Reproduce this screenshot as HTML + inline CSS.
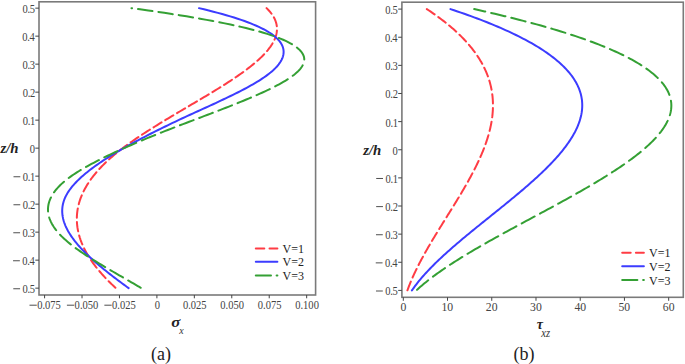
<!DOCTYPE html>
<html><head><meta charset="utf-8"><style>
html,body{margin:0;padding:0;background:#fff;}
svg{display:block;}
text{font-family:"Liberation Serif",serif;font-size:11px;fill:#444;}
.lg{font-size:12px;fill:#222;}
.t{font-style:italic;font-weight:bold;font-size:14.8px;fill:#222;}
.cap{font-size:18px;fill:#222;}
</style></head><body>
<svg width="685" height="364" viewBox="0 0 685 364">
<rect width="685" height="364" fill="#fff"/>
<g fill="none" stroke-width="2.0" stroke-linecap="round" stroke-linejoin="round">
<path d="M115.88 288.15 L114.61 286.98 L113.36 285.81 L112.13 284.64 L110.92 283.46 L109.72 282.29 L108.55 281.12 L107.40 279.95 L106.26 278.78 L105.15 277.61 L104.06 276.43 L102.99 275.26 L101.94 274.09 L100.91 272.92 L99.90 271.75 L98.91 270.58 L97.94 269.41 L96.99 268.23 L96.06 267.06 L95.16 265.89 L94.27 264.72 L93.41 263.55 L92.56 262.38 L91.74 261.20 L90.94 260.03 L90.16 258.86 L89.40 257.69 L88.66 256.52 L87.95 255.35 L87.26 254.18 L86.58 253.00 L85.93 251.83 L85.31 250.66 L84.70 249.49 L84.11 248.32 L83.55 247.15 L83.01 245.97 L82.49 244.80 L82.00 243.63 L81.52 242.46 L81.07 241.29 L80.64 240.12 L80.24 238.94 L79.85 237.77 L79.49 236.60 L79.15 235.43 L78.84 234.26 L78.54 233.09 L78.27 231.92 L78.03 230.74 L77.80 229.57 L77.60 228.40 L77.42 227.23 L77.27 226.06 L77.14 224.89 L77.03 223.71 L76.95 222.54 L76.89 221.37 L76.85 220.20 L76.84 219.03 L76.85 217.86 L76.88 216.69 L76.94 215.51 L77.02 214.34 L77.13 213.17 L77.26 212.00 L77.41 210.83 L77.59 209.66 L77.79 208.48 L78.02 207.31 L78.27 206.14 L78.55 204.97 L78.85 203.80 L79.17 202.63 L79.52 201.46 L79.90 200.28 L80.30 199.11 L80.72 197.94 L81.17 196.77 L81.65 195.60 L82.15 194.43 L82.67 193.25 L83.22 192.08 L83.80 190.91 L84.40 189.74 L85.03 188.57 L85.68 187.40 L86.36 186.23 L87.06 185.05 L87.79 183.88 L88.54 182.71 L89.32 181.54 L90.13 180.37 L90.96 179.20 L91.82 178.02 L92.71 176.85 L93.62 175.68 L94.56 174.51 L95.52 173.34 L96.51 172.17 L97.53 171.00 L98.57 169.82 L99.64 168.65 L100.74 167.48 L101.87 166.31 L103.02 165.14 L104.19 163.97 L105.40 162.79 L106.63 161.62 L107.89 160.45 L109.18 159.28 L110.49 158.11 L111.83 156.94 L113.20 155.77 L114.60 154.59 L116.02 153.42 L117.47 152.25 L118.95 151.08 L120.45 149.91 L121.98 148.74 L123.53 147.56 L125.11 146.39 L126.70 145.22 L128.33 144.05 L129.97 142.88 L131.64 141.71 L133.32 140.53 L135.03 139.36 L136.75 138.19 L138.49 137.02 L140.25 135.85 L142.03 134.68 L143.82 133.51 L145.63 132.33 L147.46 131.16 L149.30 129.99 L151.15 128.82 L153.02 127.65 L154.90 126.48 L156.79 125.30 L158.69 124.13 L160.60 122.96 L162.52 121.79 L164.45 120.62 L166.39 119.45 L168.34 118.28 L170.29 117.10 L172.25 115.93 L174.22 114.76 L176.19 113.59 L178.17 112.42 L180.15 111.25 L182.13 110.07 L184.12 108.90 L186.10 107.73 L188.09 106.56 L190.08 105.39 L192.07 104.22 L194.06 103.05 L196.04 101.87 L198.02 100.70 L200.00 99.53 L201.98 98.36 L203.95 97.19 L205.91 96.02 L207.87 94.84 L209.82 93.67 L211.76 92.50 L213.69 91.33 L215.61 90.16 L217.52 88.99 L219.41 87.82 L221.29 86.64 L223.16 85.47 L225.01 84.30 L226.84 83.13 L228.66 81.96 L230.46 80.79 L232.24 79.61 L233.99 78.44 L235.73 77.27 L237.44 76.10 L239.14 74.93 L240.80 73.76 L242.45 72.59 L244.06 71.41 L245.65 70.24 L247.21 69.07 L248.75 67.90 L250.25 66.73 L251.72 65.56 L253.16 64.38 L254.57 63.21 L255.94 62.04 L257.28 60.87 L258.59 59.70 L259.86 58.53 L261.09 57.36 L262.28 56.18 L263.43 55.01 L264.54 53.84 L265.62 52.67 L266.65 51.50 L267.63 50.33 L268.57 49.15 L269.47 47.98 L270.32 46.81 L271.13 45.64 L271.89 44.47 L272.60 43.30 L273.26 42.12 L273.86 40.95 L274.42 39.78 L274.93 38.61 L275.38 37.44 L275.77 36.27 L276.12 35.10 L276.40 33.92 L276.63 32.75 L276.80 31.58 L276.91 30.41 L276.96 29.24 L276.95 28.07 L276.88 26.89 L276.75 25.72 L276.55 24.55 L276.28 23.38 L275.96 22.21 L275.56 21.04 L275.10 19.87 L274.57 18.69 L273.97 17.52 L273.29 16.35 L272.55 15.18 L271.74 14.01 L270.85 12.84 L269.89 11.66 L268.85 10.49 L267.74 9.32 L266.55 8.15" stroke="#ff3c44" stroke-dasharray="9.4 4.32" stroke-dashoffset="-0.65"/>
<path d="M128.63 288.15 L127.03 286.98 L125.43 285.81 L123.84 284.64 L122.26 283.46 L120.68 282.29 L119.12 281.12 L117.56 279.95 L116.01 278.78 L114.47 277.61 L112.95 276.43 L111.43 275.26 L109.93 274.09 L108.44 272.92 L106.96 271.75 L105.50 270.58 L104.05 269.41 L102.61 268.23 L101.20 267.06 L99.79 265.89 L98.41 264.72 L97.04 263.55 L95.68 262.38 L94.35 261.20 L93.04 260.03 L91.74 258.86 L90.46 257.69 L89.21 256.52 L87.97 255.35 L86.76 254.18 L85.57 253.00 L84.40 251.83 L83.26 250.66 L82.14 249.49 L81.04 248.32 L79.97 247.15 L78.92 245.97 L77.90 244.80 L76.91 243.63 L75.94 242.46 L75.00 241.29 L74.09 240.12 L73.21 238.94 L72.36 237.77 L71.54 236.60 L70.75 235.43 L69.99 234.26 L69.26 233.09 L68.57 231.92 L67.90 230.74 L67.27 229.57 L66.68 228.40 L66.12 227.23 L65.59 226.06 L65.10 224.89 L64.65 223.71 L64.23 222.54 L63.85 221.37 L63.51 220.20 L63.20 219.03 L62.94 217.86 L62.72 216.69 L62.53 215.51 L62.39 214.34 L62.29 213.17 L62.22 212.00 L62.21 210.83 L62.23 209.66 L62.30 208.48 L62.41 207.31 L62.57 206.14 L62.77 204.97 L63.02 203.80 L63.32 202.63 L63.66 201.46 L64.05 200.28 L64.48 199.11 L64.97 197.94 L65.51 196.77 L66.09 195.60 L66.72 194.43 L67.41 193.25 L68.13 192.08 L68.91 190.91 L69.73 189.74 L70.60 188.57 L71.51 187.40 L72.47 186.23 L73.47 185.05 L74.51 183.88 L75.60 182.71 L76.73 181.54 L77.90 180.37 L79.11 179.20 L80.36 178.02 L81.65 176.85 L82.97 175.68 L84.34 174.51 L85.74 173.34 L87.18 172.17 L88.65 171.00 L90.16 169.82 L91.71 168.65 L93.29 167.48 L94.90 166.31 L96.55 165.14 L98.22 163.97 L99.93 162.79 L101.67 161.62 L103.44 160.45 L105.24 159.28 L107.07 158.11 L108.93 156.94 L110.81 155.77 L112.73 154.59 L114.67 153.42 L116.63 152.25 L118.62 151.08 L120.63 149.91 L122.67 148.74 L124.73 147.56 L126.81 146.39 L128.92 145.22 L131.05 144.05 L133.19 142.88 L135.36 141.71 L137.55 140.53 L139.76 139.36 L141.99 138.19 L144.23 137.02 L146.50 135.85 L148.78 134.68 L151.08 133.51 L153.40 132.33 L155.74 131.16 L158.09 129.99 L160.46 128.82 L162.85 127.65 L165.25 126.48 L167.67 125.30 L170.10 124.13 L172.55 122.96 L175.01 121.79 L177.49 120.62 L179.98 119.45 L182.48 118.28 L185.00 117.10 L187.53 115.93 L190.07 114.76 L192.62 113.59 L195.18 112.42 L197.75 111.25 L200.31 110.07 L202.88 108.90 L205.45 107.73 L208.01 106.56 L210.57 105.39 L213.12 104.22 L215.66 103.05 L218.18 101.87 L220.69 100.70 L223.18 99.53 L225.66 98.36 L228.11 97.19 L230.53 96.02 L232.93 94.84 L235.31 93.67 L237.65 92.50 L239.95 91.33 L242.23 90.16 L244.46 88.99 L246.65 87.82 L248.80 86.64 L250.91 85.47 L252.97 84.30 L254.98 83.13 L256.94 81.96 L258.84 80.79 L260.69 79.61 L262.48 78.44 L264.21 77.27 L265.88 76.10 L267.48 74.93 L269.01 73.76 L270.48 72.59 L271.87 71.41 L273.19 70.24 L274.44 69.07 L275.61 67.90 L276.71 66.73 L277.73 65.56 L278.67 64.38 L279.54 63.21 L280.32 62.04 L281.02 60.87 L281.65 59.70 L282.18 58.53 L282.64 57.36 L283.01 56.18 L283.29 55.01 L283.48 53.84 L283.59 52.67 L283.61 51.50 L283.53 50.33 L283.36 49.15 L283.09 47.98 L282.73 46.81 L282.26 45.64 L281.68 44.47 L281.00 43.30 L280.22 42.12 L279.31 40.95 L278.30 39.78 L277.17 38.61 L275.92 37.44 L274.54 36.27 L273.05 35.10 L271.42 33.92 L269.67 32.75 L267.78 31.58 L265.76 30.41 L263.61 29.24 L261.31 28.07 L258.88 26.89 L256.30 25.72 L253.57 24.55 L250.70 23.38 L247.67 22.21 L244.50 21.04 L241.17 19.87 L237.69 18.69 L234.04 17.52 L230.24 16.35 L226.27 15.18 L222.15 14.01 L217.85 12.84 L213.39 11.66 L208.76 10.49 L203.95 9.32 L198.97 8.15" stroke="#3c3cff"/>
<path d="M141.33 288.15 L139.36 286.98 L137.38 285.81 L135.39 284.64 L133.39 283.46 L131.38 282.29 L129.36 281.12 L127.34 279.95 L125.31 278.78 L123.29 277.61 L121.26 276.43 L119.23 275.26 L117.20 274.09 L115.17 272.92 L113.15 271.75 L111.14 270.58 L109.13 269.41 L107.14 268.23 L105.15 267.06 L103.17 265.89 L101.21 264.72 L99.27 263.55 L97.33 262.38 L95.42 261.20 L93.53 260.03 L91.65 258.86 L89.80 257.69 L87.98 256.52 L86.17 255.35 L84.40 254.18 L82.65 253.00 L80.93 251.83 L79.24 250.66 L77.59 249.49 L75.97 248.32 L74.38 247.15 L72.83 245.97 L71.32 244.80 L69.84 243.63 L68.41 242.46 L67.02 241.29 L65.68 240.12 L64.38 238.94 L63.13 237.77 L61.92 236.60 L60.76 235.43 L59.65 234.26 L58.59 233.09 L57.58 231.92 L56.62 230.74 L55.70 229.57 L54.84 228.40 L54.03 227.23 L53.26 226.06 L52.55 224.89 L51.88 223.71 L51.27 222.54 L50.71 221.37 L50.20 220.20 L49.75 219.03 L49.34 217.86 L48.99 216.69 L48.69 215.51 L48.44 214.34 L48.25 213.17 L48.11 212.00 L48.02 210.83 L47.99 209.66 L48.01 208.48 L48.09 207.31 L48.22 206.14 L48.41 204.97 L48.65 203.80 L48.95 202.63 L49.31 201.46 L49.72 200.28 L50.19 199.11 L50.72 197.94 L51.30 196.77 L51.94 195.60 L52.64 194.43 L53.40 193.25 L54.21 192.08 L55.09 190.91 L56.02 189.74 L57.01 188.57 L58.07 187.40 L59.18 186.23 L60.35 185.05 L61.58 183.88 L62.88 182.71 L64.23 181.54 L65.65 180.37 L67.13 179.20 L68.67 178.02 L70.27 176.85 L71.93 175.68 L73.65 174.51 L75.43 173.34 L77.26 172.17 L79.14 171.00 L81.08 169.82 L83.06 168.65 L85.09 167.48 L87.17 166.31 L89.30 165.14 L91.46 163.97 L93.67 162.79 L95.91 161.62 L98.19 160.45 L100.51 159.28 L102.86 158.11 L105.24 156.94 L107.66 155.77 L110.10 154.59 L112.57 153.42 L115.07 152.25 L117.60 151.08 L120.16 149.91 L122.75 148.74 L125.36 147.56 L128.01 146.39 L130.68 145.22 L133.38 144.05 L136.10 142.88 L138.85 141.71 L141.63 140.53 L144.43 139.36 L147.26 138.19 L150.12 137.02 L153.00 135.85 L155.90 134.68 L158.83 133.51 L161.78 132.33 L164.76 131.16 L167.76 129.99 L170.78 128.82 L173.82 127.65 L176.87 126.48 L179.94 125.30 L183.02 124.13 L186.10 122.96 L189.19 121.79 L192.28 120.62 L195.37 119.45 L198.45 118.28 L201.54 117.10 L204.62 115.93 L207.69 114.76 L210.75 113.59 L213.81 112.42 L216.85 111.25 L219.88 110.07 L222.90 108.90 L225.90 107.73 L228.88 106.56 L231.84 105.39 L234.78 104.22 L237.70 103.05 L240.59 101.87 L243.46 100.70 L246.29 99.53 L249.10 98.36 L251.87 97.19 L254.60 96.02 L257.28 94.84 L259.93 93.67 L262.53 92.50 L265.07 91.33 L267.57 90.16 L270.01 88.99 L272.39 87.82 L274.71 86.64 L276.96 85.47 L279.15 84.30 L281.26 83.13 L283.31 81.96 L285.27 80.79 L287.16 79.61 L288.96 78.44 L290.68 77.27 L292.31 76.10 L293.85 74.93 L295.30 73.76 L296.65 72.59 L297.90 71.41 L299.05 70.24 L300.09 69.07 L301.02 67.90 L301.84 66.73 L302.55 65.56 L303.14 64.38 L303.61 63.21 L303.96 62.04 L304.18 60.87 L304.27 59.70 L304.23 58.53 L304.05 57.36 L303.74 56.18 L303.28 55.01 L302.69 53.84 L301.94 52.67 L301.05 51.50 L300.00 50.33 L298.80 49.15 L297.44 47.98 L295.92 46.81 L294.23 45.64 L292.37 44.47 L290.34 43.30 L288.12 42.12 L285.73 40.95 L283.14 39.78 L280.36 38.61 L277.38 37.44 L274.20 36.27 L270.81 35.10 L267.21 33.92 L263.40 32.75 L259.36 31.58 L255.10 30.41 L250.62 29.24 L245.91 28.07 L240.99 26.89 L235.83 25.72 L230.46 24.55 L224.86 23.38 L219.03 22.21 L212.97 21.04 L206.69 19.87 L200.18 18.69 L193.45 17.52 L186.49 16.35 L179.30 15.18 L171.88 14.01 L164.25 12.84 L156.38 11.66 L148.29 10.49 L139.98 9.32 L131.44 8.15" stroke="#34a034" stroke-dasharray="14.57 6.0" stroke-dashoffset="-0.7"/>
<path d="M407.40 290.40 L407.83 289.22 L408.26 288.05 L408.71 286.87 L409.16 285.69 L409.63 284.52 L410.10 283.34 L410.58 282.16 L411.08 280.98 L411.58 279.81 L412.08 278.63 L412.60 277.45 L413.13 276.28 L413.66 275.10 L414.20 273.92 L414.75 272.75 L415.31 271.57 L415.87 270.39 L416.45 269.21 L417.02 268.04 L417.61 266.86 L418.20 265.68 L418.80 264.51 L419.41 263.33 L420.02 262.15 L420.64 260.98 L421.26 259.80 L421.89 258.62 L422.53 257.44 L423.17 256.27 L423.82 255.09 L424.47 253.91 L425.13 252.74 L425.79 251.56 L426.45 250.38 L427.13 249.21 L427.80 248.03 L428.48 246.85 L429.16 245.67 L429.85 244.50 L430.54 243.32 L431.24 242.14 L431.94 240.97 L432.64 239.79 L433.34 238.61 L434.05 237.44 L434.76 236.26 L435.48 235.08 L436.19 233.90 L436.91 232.73 L437.63 231.55 L438.35 230.37 L439.07 229.20 L439.80 228.02 L440.53 226.84 L441.26 225.67 L441.98 224.49 L442.72 223.31 L443.45 222.13 L444.18 220.96 L444.91 219.78 L445.64 218.60 L446.38 217.43 L447.11 216.25 L447.84 215.07 L448.57 213.90 L449.31 212.72 L450.04 211.54 L450.77 210.36 L451.50 209.19 L452.23 208.01 L452.95 206.83 L453.68 205.66 L454.40 204.48 L455.13 203.30 L455.85 202.13 L456.56 200.95 L457.28 199.77 L457.99 198.59 L458.71 197.42 L459.41 196.24 L460.12 195.06 L460.82 193.89 L461.52 192.71 L462.22 191.53 L462.91 190.36 L463.60 189.18 L464.28 188.00 L464.96 186.83 L465.64 185.65 L466.31 184.47 L466.98 183.29 L467.64 182.12 L468.30 180.94 L468.95 179.76 L469.60 178.59 L470.24 177.41 L470.88 176.23 L471.51 175.06 L472.14 173.88 L472.76 172.70 L473.37 171.52 L473.98 170.35 L474.58 169.17 L475.18 167.99 L475.76 166.82 L476.34 165.64 L476.92 164.46 L477.48 163.29 L478.04 162.11 L478.59 160.93 L479.14 159.75 L479.67 158.58 L480.20 157.40 L480.72 156.22 L481.23 155.05 L481.73 153.87 L482.23 152.69 L482.71 151.52 L483.19 150.34 L483.65 149.16 L484.11 147.98 L484.56 146.81 L484.99 145.63 L485.42 144.45 L485.84 143.28 L486.25 142.10 L486.65 140.92 L487.03 139.75 L487.41 138.57 L487.77 137.39 L488.13 136.21 L488.47 135.04 L488.80 133.86 L489.12 132.68 L489.43 131.51 L489.73 130.33 L490.02 129.15 L490.29 127.98 L490.55 126.80 L490.80 125.62 L491.03 124.44 L491.26 123.27 L491.47 122.09 L491.66 120.91 L491.85 119.74 L492.02 118.56 L492.17 117.38 L492.32 116.21 L492.44 115.03 L492.56 113.85 L492.66 112.67 L492.75 111.50 L492.82 110.32 L492.88 109.14 L492.92 107.97 L492.94 106.79 L492.96 105.61 L492.95 104.44 L492.93 103.26 L492.90 102.08 L492.85 100.91 L492.78 99.73 L492.70 98.55 L492.60 97.37 L492.49 96.20 L492.35 95.02 L492.20 93.84 L492.04 92.67 L491.86 91.49 L491.66 90.31 L491.44 89.14 L491.20 87.96 L490.95 86.78 L490.68 85.60 L490.39 84.43 L490.08 83.25 L489.75 82.07 L489.41 80.90 L489.05 79.72 L488.66 78.54 L488.26 77.37 L487.84 76.19 L487.40 75.01 L486.94 73.83 L486.46 72.66 L485.96 71.48 L485.45 70.30 L484.91 69.13 L484.35 67.95 L483.77 66.77 L483.16 65.60 L482.54 64.42 L481.90 63.24 L481.24 62.06 L480.55 60.89 L479.84 59.71 L479.11 58.53 L478.36 57.36 L477.59 56.18 L476.80 55.00 L475.98 53.83 L475.14 52.65 L474.28 51.47 L473.39 50.29 L472.49 49.12 L471.55 47.94 L470.60 46.76 L469.62 45.59 L468.62 44.41 L467.60 43.23 L466.55 42.06 L465.47 40.88 L464.38 39.70 L463.26 38.52 L462.11 37.35 L460.94 36.17 L459.74 34.99 L458.52 33.82 L457.27 32.64 L456.00 31.46 L454.71 30.29 L453.38 29.11 L452.03 27.93 L450.66 26.75 L449.26 25.58 L447.83 24.40 L446.38 23.22 L444.89 22.05 L443.39 20.87 L441.85 19.69 L440.29 18.52 L438.70 17.34 L437.09 16.16 L435.44 14.98 L433.77 13.81 L432.07 12.63 L430.34 11.45 L428.58 10.28 L426.80 9.10" stroke="#ff3c44" stroke-dasharray="9.4 4.44" stroke-dashoffset="-0.07"/>
<path d="M411.93 290.40 L412.74 289.22 L413.57 288.05 L414.43 286.87 L415.30 285.69 L416.20 284.52 L417.11 283.34 L418.04 282.16 L418.99 280.98 L419.96 279.81 L420.95 278.63 L421.96 277.45 L422.98 276.28 L424.02 275.10 L425.08 273.92 L426.15 272.75 L427.24 271.57 L428.35 270.39 L429.47 269.21 L430.61 268.04 L431.76 266.86 L432.92 265.68 L434.10 264.51 L435.29 263.33 L436.50 262.15 L437.72 260.98 L438.95 259.80 L440.20 258.62 L441.45 257.44 L442.72 256.27 L444.00 255.09 L445.29 253.91 L446.59 252.74 L447.91 251.56 L449.23 250.38 L450.56 249.21 L451.90 248.03 L453.25 246.85 L454.61 245.67 L455.98 244.50 L457.35 243.32 L458.73 242.14 L460.12 240.97 L461.52 239.79 L462.92 238.61 L464.33 237.44 L465.75 236.26 L467.17 235.08 L468.60 233.90 L470.03 232.73 L471.46 231.55 L472.90 230.37 L474.35 229.20 L475.80 228.02 L477.25 226.84 L478.70 225.67 L480.16 224.49 L481.62 223.31 L483.08 222.13 L484.54 220.96 L486.00 219.78 L487.47 218.60 L488.93 217.43 L490.40 216.25 L491.87 215.07 L493.33 213.90 L494.80 212.72 L496.26 211.54 L497.72 210.36 L499.18 209.19 L500.64 208.01 L502.09 206.83 L503.55 205.66 L505.00 204.48 L506.44 203.30 L507.89 202.13 L509.33 200.95 L510.76 199.77 L512.19 198.59 L513.62 197.42 L515.04 196.24 L516.45 195.06 L517.86 193.89 L519.26 192.71 L520.65 191.53 L522.04 190.36 L523.42 189.18 L524.79 188.00 L526.16 186.83 L527.51 185.65 L528.86 184.47 L530.20 183.29 L531.53 182.12 L532.85 180.94 L534.16 179.76 L535.46 178.59 L536.74 177.41 L538.02 176.23 L539.29 175.06 L540.54 173.88 L541.79 172.70 L543.02 171.52 L544.23 170.35 L545.44 169.17 L546.63 167.99 L547.81 166.82 L548.97 165.64 L550.12 164.46 L551.26 163.29 L552.38 162.11 L553.48 160.93 L554.57 159.75 L555.64 158.58 L556.70 157.40 L557.74 156.22 L558.77 155.05 L559.77 153.87 L560.76 152.69 L561.73 151.52 L562.69 150.34 L563.62 149.16 L564.54 147.98 L565.43 146.81 L566.31 145.63 L567.17 144.45 L568.00 143.28 L568.82 142.10 L569.62 140.92 L570.39 139.75 L571.15 138.57 L571.88 137.39 L572.59 136.21 L573.27 135.04 L573.94 133.86 L574.58 132.68 L575.20 131.51 L575.79 130.33 L576.36 129.15 L576.91 127.98 L577.43 126.80 L577.93 125.62 L578.40 124.44 L578.84 123.27 L579.26 122.09 L579.66 120.91 L580.02 119.74 L580.36 118.56 L580.68 117.38 L580.96 116.21 L581.22 115.03 L581.45 113.85 L581.65 112.67 L581.82 111.50 L581.97 110.32 L582.08 109.14 L582.16 107.97 L582.22 106.79 L582.24 105.61 L582.23 104.44 L582.19 103.26 L582.12 102.08 L582.02 100.91 L581.89 99.73 L581.72 98.55 L581.52 97.37 L581.29 96.20 L581.02 95.02 L580.73 93.84 L580.39 92.67 L580.03 91.49 L579.62 90.31 L579.19 89.14 L578.72 87.96 L578.21 86.78 L577.67 85.60 L577.09 84.43 L576.47 83.25 L575.82 82.07 L575.13 80.90 L574.40 79.72 L573.64 78.54 L572.84 77.37 L572.00 76.19 L571.12 75.01 L570.20 73.83 L569.24 72.66 L568.24 71.48 L567.20 70.30 L566.13 69.13 L565.01 67.95 L563.85 66.77 L562.65 65.60 L561.41 64.42 L560.12 63.24 L558.80 62.06 L557.43 60.89 L556.02 59.71 L554.56 58.53 L553.07 57.36 L551.52 56.18 L549.94 55.00 L548.31 53.83 L546.64 52.65 L544.92 51.47 L543.15 50.29 L541.34 49.12 L539.49 47.94 L537.58 46.76 L535.64 45.59 L533.64 44.41 L531.60 43.23 L529.51 42.06 L527.37 40.88 L525.18 39.70 L522.95 38.52 L520.67 37.35 L518.33 36.17 L515.95 34.99 L513.52 33.82 L511.04 32.64 L508.51 31.46 L505.93 30.29 L503.29 29.11 L500.61 27.93 L497.88 26.75 L495.09 25.58 L492.25 24.40 L489.36 23.22 L486.41 22.05 L483.42 20.87 L480.36 19.69 L477.26 18.52 L474.10 17.34 L470.89 16.16 L467.62 14.98 L464.30 13.81 L460.92 12.63 L457.49 11.45 L454.00 10.28 L450.46 9.10" stroke="#3c3cff"/>
<path d="M416.42 290.40 L417.69 289.22 L418.99 288.05 L420.31 286.87 L421.67 285.69 L423.05 284.52 L424.46 283.34 L425.90 282.16 L427.36 280.98 L428.86 279.81 L430.37 278.63 L431.92 277.45 L433.49 276.28 L435.08 275.10 L436.69 273.92 L438.33 272.75 L440.00 271.57 L441.68 270.39 L443.39 269.21 L445.12 268.04 L446.87 266.86 L448.64 265.68 L450.43 264.51 L452.24 263.33 L454.07 262.15 L455.91 260.98 L457.78 259.80 L459.66 258.62 L461.56 257.44 L463.48 256.27 L465.41 255.09 L467.36 253.91 L469.32 252.74 L471.30 251.56 L473.29 250.38 L475.30 249.21 L477.32 248.03 L479.35 246.85 L481.39 245.67 L483.45 244.50 L485.52 243.32 L487.59 242.14 L489.68 240.97 L491.78 239.79 L493.89 238.61 L496.00 237.44 L498.12 236.26 L500.25 235.08 L502.39 233.90 L504.54 232.73 L506.69 231.55 L508.85 230.37 L511.01 229.20 L513.18 228.02 L515.35 226.84 L517.52 225.67 L519.70 224.49 L521.89 223.31 L524.07 222.13 L526.26 220.96 L528.44 219.78 L530.63 218.60 L532.82 217.43 L535.01 216.25 L537.20 215.07 L539.39 213.90 L541.57 212.72 L543.75 211.54 L545.94 210.36 L548.11 209.19 L550.29 208.01 L552.46 206.83 L554.63 205.66 L556.79 204.48 L558.94 203.30 L561.09 202.13 L563.24 200.95 L565.38 199.77 L567.51 198.59 L569.63 197.42 L571.74 196.24 L573.85 195.06 L575.94 193.89 L578.03 192.71 L580.10 191.53 L582.17 190.36 L584.22 189.18 L586.26 188.00 L588.29 186.83 L590.31 185.65 L592.31 184.47 L594.30 183.29 L596.28 182.12 L598.24 180.94 L600.19 179.76 L602.12 178.59 L604.03 177.41 L605.93 176.23 L607.81 175.06 L609.67 173.88 L611.52 172.70 L613.35 171.52 L615.15 170.35 L616.94 169.17 L618.71 167.99 L620.46 166.82 L622.19 165.64 L623.89 164.46 L625.58 163.29 L627.24 162.11 L628.88 160.93 L630.49 159.75 L632.09 158.58 L633.65 157.40 L635.20 156.22 L636.72 155.05 L638.21 153.87 L639.67 152.69 L641.11 151.52 L642.53 150.34 L643.91 149.16 L645.27 147.98 L646.59 146.81 L647.89 145.63 L649.16 144.45 L650.40 143.28 L651.61 142.10 L652.79 140.92 L653.93 139.75 L655.05 138.57 L656.13 137.39 L657.18 136.21 L658.20 135.04 L659.18 133.86 L660.12 132.68 L661.04 131.51 L661.91 130.33 L662.76 129.15 L663.56 127.98 L664.33 126.80 L665.06 125.62 L665.76 124.44 L666.41 123.27 L667.03 122.09 L667.61 120.91 L668.14 119.74 L668.64 118.56 L669.10 117.38 L669.52 116.21 L669.89 115.03 L670.22 113.85 L670.52 112.67 L670.76 111.50 L670.97 110.32 L671.13 109.14 L671.24 107.97 L671.31 106.79 L671.34 105.61 L671.32 104.44 L671.25 103.26 L671.14 102.08 L670.98 100.91 L670.77 99.73 L670.52 98.55 L670.21 97.37 L669.86 96.20 L669.46 95.02 L669.00 93.84 L668.50 92.67 L667.95 91.49 L667.34 90.31 L666.68 89.14 L665.97 87.96 L665.21 86.78 L664.39 85.60 L663.52 84.43 L662.59 83.25 L661.61 82.07 L660.58 80.90 L659.49 79.72 L658.34 78.54 L657.14 77.37 L655.87 76.19 L654.56 75.01 L653.18 73.83 L651.74 72.66 L650.25 71.48 L648.69 70.30 L647.08 69.13 L645.41 67.95 L643.67 66.77 L641.87 65.60 L640.01 64.42 L638.09 63.24 L636.11 62.06 L634.06 60.89 L631.95 59.71 L629.77 58.53 L627.53 57.36 L625.23 56.18 L622.86 55.00 L620.42 53.83 L617.92 52.65 L615.35 51.47 L612.71 50.29 L610.00 49.12 L607.23 47.94 L604.38 46.76 L601.47 45.59 L598.49 44.41 L595.43 43.23 L592.31 42.06 L589.11 40.88 L585.85 39.70 L582.51 38.52 L579.09 37.35 L575.61 36.17 L572.05 34.99 L568.42 33.82 L564.71 32.64 L560.93 31.46 L557.07 30.29 L553.13 29.11 L549.12 27.93 L545.03 26.75 L540.87 25.58 L536.63 24.40 L532.30 23.22 L527.90 22.05 L523.42 20.87 L518.86 19.69 L514.23 18.52 L509.50 17.34 L504.70 16.16 L499.82 14.98 L494.86 13.81 L489.81 12.63 L484.68 11.45 L479.46 10.28 L474.17 9.10" stroke="#34a034" stroke-dasharray="14.72 6.0" stroke-dashoffset="-0.79"/>
</g>
<rect x="39" y="1.8" width="276.6" height="293.2" fill="none" stroke="#7a7a7a" stroke-width="1.6"/>
<rect x="401.9" y="2.2" width="281.4" height="295.1" fill="none" stroke="#7a7a7a" stroke-width="1.6"/>
<line x1="35.3" y1="288.15" x2="39" y2="288.15" stroke="#444" stroke-width="1"/>
<line x1="13.29" y1="288.75" x2="20.09" y2="288.75" stroke="#3a3a3a" stroke-width="0.9"/>
<line x1="35.3" y1="260.15" x2="39" y2="260.15" stroke="#444" stroke-width="1"/>
<line x1="13.05" y1="260.75" x2="19.85" y2="260.75" stroke="#3a3a3a" stroke-width="0.9"/>
<line x1="35.3" y1="232.15" x2="39" y2="232.15" stroke="#444" stroke-width="1"/>
<line x1="13.29" y1="232.75" x2="20.09" y2="232.75" stroke="#3a3a3a" stroke-width="0.9"/>
<line x1="35.3" y1="204.15" x2="39" y2="204.15" stroke="#444" stroke-width="1"/>
<line x1="13.46" y1="204.75" x2="20.26" y2="204.75" stroke="#3a3a3a" stroke-width="0.9"/>
<line x1="35.3" y1="176.15" x2="39" y2="176.15" stroke="#444" stroke-width="1"/>
<line x1="13.51" y1="176.75" x2="20.31" y2="176.75" stroke="#3a3a3a" stroke-width="0.9"/>
<line x1="35.3" y1="148.15" x2="39" y2="148.15" stroke="#444" stroke-width="1"/>

<line x1="35.3" y1="120.15" x2="39" y2="120.15" stroke="#444" stroke-width="1"/>

<line x1="35.3" y1="92.15" x2="39" y2="92.15" stroke="#444" stroke-width="1"/>

<line x1="35.3" y1="64.15" x2="39" y2="64.15" stroke="#444" stroke-width="1"/>

<line x1="35.3" y1="36.15" x2="39" y2="36.15" stroke="#444" stroke-width="1"/>

<line x1="35.3" y1="8.15" x2="39" y2="8.15" stroke="#444" stroke-width="1"/>

<line x1="44.58" y1="295" x2="44.58" y2="298.3" stroke="#444" stroke-width="1"/>
<line x1="29.49" y1="305.20" x2="36.79" y2="305.20" stroke="#3a3a3a" stroke-width="0.9"/>
<line x1="82.02" y1="295" x2="82.02" y2="298.3" stroke="#444" stroke-width="1"/>
<line x1="66.92" y1="305.20" x2="74.22" y2="305.20" stroke="#3a3a3a" stroke-width="0.9"/>
<line x1="119.46" y1="295" x2="119.46" y2="298.3" stroke="#444" stroke-width="1"/>
<line x1="104.37" y1="305.20" x2="111.67" y2="305.20" stroke="#3a3a3a" stroke-width="0.9"/>
<line x1="156.90" y1="295" x2="156.90" y2="298.3" stroke="#444" stroke-width="1"/>

<line x1="194.34" y1="295" x2="194.34" y2="298.3" stroke="#444" stroke-width="1"/>

<line x1="231.78" y1="295" x2="231.78" y2="298.3" stroke="#444" stroke-width="1"/>

<line x1="269.22" y1="295" x2="269.22" y2="298.3" stroke="#444" stroke-width="1"/>

<line x1="306.66" y1="295" x2="306.66" y2="298.3" stroke="#444" stroke-width="1"/>

<line x1="398.2" y1="290.40" x2="401.9" y2="290.40" stroke="#444" stroke-width="1"/>
<line x1="375.99" y1="291.00" x2="382.79" y2="291.00" stroke="#3a3a3a" stroke-width="0.9"/>
<line x1="398.2" y1="262.27" x2="401.9" y2="262.27" stroke="#444" stroke-width="1"/>
<line x1="375.75" y1="262.87" x2="382.55" y2="262.87" stroke="#3a3a3a" stroke-width="0.9"/>
<line x1="398.2" y1="234.14" x2="401.9" y2="234.14" stroke="#444" stroke-width="1"/>
<line x1="375.99" y1="234.74" x2="382.79" y2="234.74" stroke="#3a3a3a" stroke-width="0.9"/>
<line x1="398.2" y1="206.01" x2="401.9" y2="206.01" stroke="#444" stroke-width="1"/>
<line x1="376.16" y1="206.61" x2="382.96" y2="206.61" stroke="#3a3a3a" stroke-width="0.9"/>
<line x1="398.2" y1="177.88" x2="401.9" y2="177.88" stroke="#444" stroke-width="1"/>
<line x1="376.21" y1="178.48" x2="383.01" y2="178.48" stroke="#3a3a3a" stroke-width="0.9"/>
<line x1="398.2" y1="149.75" x2="401.9" y2="149.75" stroke="#444" stroke-width="1"/>

<line x1="398.2" y1="121.62" x2="401.9" y2="121.62" stroke="#444" stroke-width="1"/>

<line x1="398.2" y1="93.49" x2="401.9" y2="93.49" stroke="#444" stroke-width="1"/>

<line x1="398.2" y1="65.36" x2="401.9" y2="65.36" stroke="#444" stroke-width="1"/>

<line x1="398.2" y1="37.23" x2="401.9" y2="37.23" stroke="#444" stroke-width="1"/>

<line x1="398.2" y1="9.10" x2="401.9" y2="9.10" stroke="#444" stroke-width="1"/>

<line x1="403.30" y1="297.3" x2="403.30" y2="300.8" stroke="#444" stroke-width="1"/>

<line x1="447.53" y1="297.3" x2="447.53" y2="300.8" stroke="#444" stroke-width="1"/>

<line x1="491.76" y1="297.3" x2="491.76" y2="300.8" stroke="#444" stroke-width="1"/>

<line x1="535.99" y1="297.3" x2="535.99" y2="300.8" stroke="#444" stroke-width="1"/>

<line x1="580.22" y1="297.3" x2="580.22" y2="300.8" stroke="#444" stroke-width="1"/>

<line x1="624.45" y1="297.3" x2="624.45" y2="300.8" stroke="#444" stroke-width="1"/>

<line x1="668.68" y1="297.3" x2="668.68" y2="300.8" stroke="#444" stroke-width="1"/>

<g>
<text transform="translate(22.49,293.05) scale(0.9,1)" style="font-size:11.7px;letter-spacing:-0.3px">0.5</text>
<text transform="translate(22.25,265.05) scale(0.9,1)" style="font-size:11.7px;letter-spacing:-0.3px">0.4</text>
<text transform="translate(22.49,237.05) scale(0.9,1)" style="font-size:11.7px;letter-spacing:-0.3px">0.3</text>
<text transform="translate(22.66,209.05) scale(0.9,1)" style="font-size:11.7px;letter-spacing:-0.3px">0.2</text>
<text transform="translate(22.71,181.05) scale(0.9,1)" style="font-size:11.7px;letter-spacing:-0.3px">0.1</text>
<text transform="translate(29.84,153.05) scale(0.9,1)" style="font-size:11.7px;letter-spacing:-0.3px">0</text>
<text transform="translate(22.71,125.05) scale(0.9,1)" style="font-size:11.7px;letter-spacing:-0.3px">0.1</text>
<text transform="translate(22.66,97.05) scale(0.9,1)" style="font-size:11.7px;letter-spacing:-0.3px">0.2</text>
<text transform="translate(22.49,69.05) scale(0.9,1)" style="font-size:11.7px;letter-spacing:-0.3px">0.3</text>
<text transform="translate(22.25,41.05) scale(0.9,1)" style="font-size:11.7px;letter-spacing:-0.3px">0.4</text>
<text transform="translate(22.49,13.05) scale(0.9,1)" style="font-size:11.7px;letter-spacing:-0.3px">0.5</text>
<text transform="translate(37.19,308.70) scale(0.9,1)" style="font-size:11.7px;letter-spacing:0.0px">0.075</text>
<text transform="translate(74.62,308.70) scale(0.9,1)" style="font-size:11.7px;letter-spacing:0.0px">0.050</text>
<text transform="translate(112.07,308.70) scale(0.9,1)" style="font-size:11.7px;letter-spacing:0.0px">0.025</text>
<text transform="translate(154.67,308.70) scale(0.9,1)" style="font-size:11.7px;letter-spacing:0.0px">0</text>
<text transform="translate(182.90,308.70) scale(0.9,1)" style="font-size:11.7px;letter-spacing:0.0px">0.025</text>
<text transform="translate(220.33,308.70) scale(0.9,1)" style="font-size:11.7px;letter-spacing:0.0px">0.050</text>
<text transform="translate(257.78,308.70) scale(0.9,1)" style="font-size:11.7px;letter-spacing:0.0px">0.075</text>
<text transform="translate(295.21,308.70) scale(0.9,1)" style="font-size:11.7px;letter-spacing:0.0px">0.100</text>
<text transform="translate(385.19,295.30) scale(0.9,1)" style="font-size:11.7px;letter-spacing:-0.3px">0.5</text>
<text transform="translate(384.95,267.17) scale(0.9,1)" style="font-size:11.7px;letter-spacing:-0.3px">0.4</text>
<text transform="translate(385.19,239.04) scale(0.9,1)" style="font-size:11.7px;letter-spacing:-0.3px">0.3</text>
<text transform="translate(385.36,210.91) scale(0.9,1)" style="font-size:11.7px;letter-spacing:-0.3px">0.2</text>
<text transform="translate(385.41,182.78) scale(0.9,1)" style="font-size:11.7px;letter-spacing:-0.3px">0.1</text>
<text transform="translate(392.54,154.65) scale(0.9,1)" style="font-size:11.7px;letter-spacing:-0.3px">0</text>
<text transform="translate(385.41,126.52) scale(0.9,1)" style="font-size:11.7px;letter-spacing:-0.3px">0.1</text>
<text transform="translate(385.36,98.39) scale(0.9,1)" style="font-size:11.7px;letter-spacing:-0.3px">0.2</text>
<text transform="translate(385.19,70.26) scale(0.9,1)" style="font-size:11.7px;letter-spacing:-0.3px">0.3</text>
<text transform="translate(384.95,42.13) scale(0.9,1)" style="font-size:11.7px;letter-spacing:-0.3px">0.4</text>
<text transform="translate(385.19,14.00) scale(0.9,1)" style="font-size:11.7px;letter-spacing:-0.3px">0.5</text>
<text transform="translate(400.38,311.10) scale(1.0,1)" style="font-size:11.7px;letter-spacing:0px">0</text>
<text transform="translate(441.39,311.10) scale(1.0,1)" style="font-size:11.7px;letter-spacing:0px">10</text>
<text transform="translate(485.87,311.10) scale(1.0,1)" style="font-size:11.7px;letter-spacing:0px">20</text>
<text transform="translate(530.08,311.10) scale(1.0,1)" style="font-size:11.7px;letter-spacing:0px">30</text>
<text transform="translate(574.48,311.10) scale(1.0,1)" style="font-size:11.7px;letter-spacing:0px">40</text>
<text transform="translate(618.48,311.10) scale(1.0,1)" style="font-size:11.7px;letter-spacing:0px">50</text>
<text transform="translate(662.80,311.10) scale(1.0,1)" style="font-size:11.7px;letter-spacing:0px">60</text>
</g>
<g fill="none" stroke-width="2.0" stroke-linecap="round">
<line x1="255.8" y1="248.4" x2="264.3" y2="248.4" stroke="#ff3c44"/>
<line x1="269.5" y1="248.4" x2="277.4" y2="248.4" stroke="#ff3c44"/>
<line x1="255.8" y1="261.8" x2="277.4" y2="261.8" stroke="#3c3cff"/>
<line x1="255.8" y1="275.6" x2="271.0" y2="275.6" stroke="#34a034"/>
<line x1="276.59999999999997" y1="275.6" x2="277.4" y2="275.6" stroke="#34a034"/>
<text class="lg" x="282.6" y="253.00">V=<tspan>1</tspan></text>
<text class="lg" x="282.6" y="266.40">V=<tspan>2</tspan></text>
<text class="lg" x="282.6" y="280.20">V=<tspan>3</tspan></text>
<line x1="622.2" y1="252.7" x2="630.7" y2="252.7" stroke="#ff3c44"/>
<line x1="635.9000000000001" y1="252.7" x2="643.9" y2="252.7" stroke="#ff3c44"/>
<line x1="622.2" y1="266.3" x2="643.9" y2="266.3" stroke="#3c3cff"/>
<line x1="622.2" y1="280.1" x2="637.4000000000001" y2="280.1" stroke="#34a034"/>
<line x1="643.1" y1="280.1" x2="643.9" y2="280.1" stroke="#34a034"/>
<text class="lg" x="649.0" y="257.30">V=<tspan>1</tspan></text>
<text class="lg" x="649.0" y="270.90">V=<tspan>2</tspan></text>
<text class="lg" x="649.0" y="284.70">V=<tspan>3</tspan></text>
</g>
<text class="t" x="0.5" y="152.8">z/h</text>
<text class="t" x="363.2" y="154.9">z/h</text>
<text class="t" style="font-size:14px" transform="translate(171.2,327) scale(1.2,1)">&#963;</text>
<text transform="translate(179.3,333.6) scale(0.9,1)" style="font-style:italic;font-size:11px;fill:#333">x</text>
<text class="t" style="font-size:14px" x="536.8" y="329">&#964;</text>
<text transform="translate(541.2,337.3) scale(0.85,1)" style="font-style:italic;font-size:12.5px;fill:#333">xz</text>
<text class="cap" x="151" y="360">(a)</text>
<text class="cap" x="513.5" y="360">(b)</text>
</svg>
</body></html>
